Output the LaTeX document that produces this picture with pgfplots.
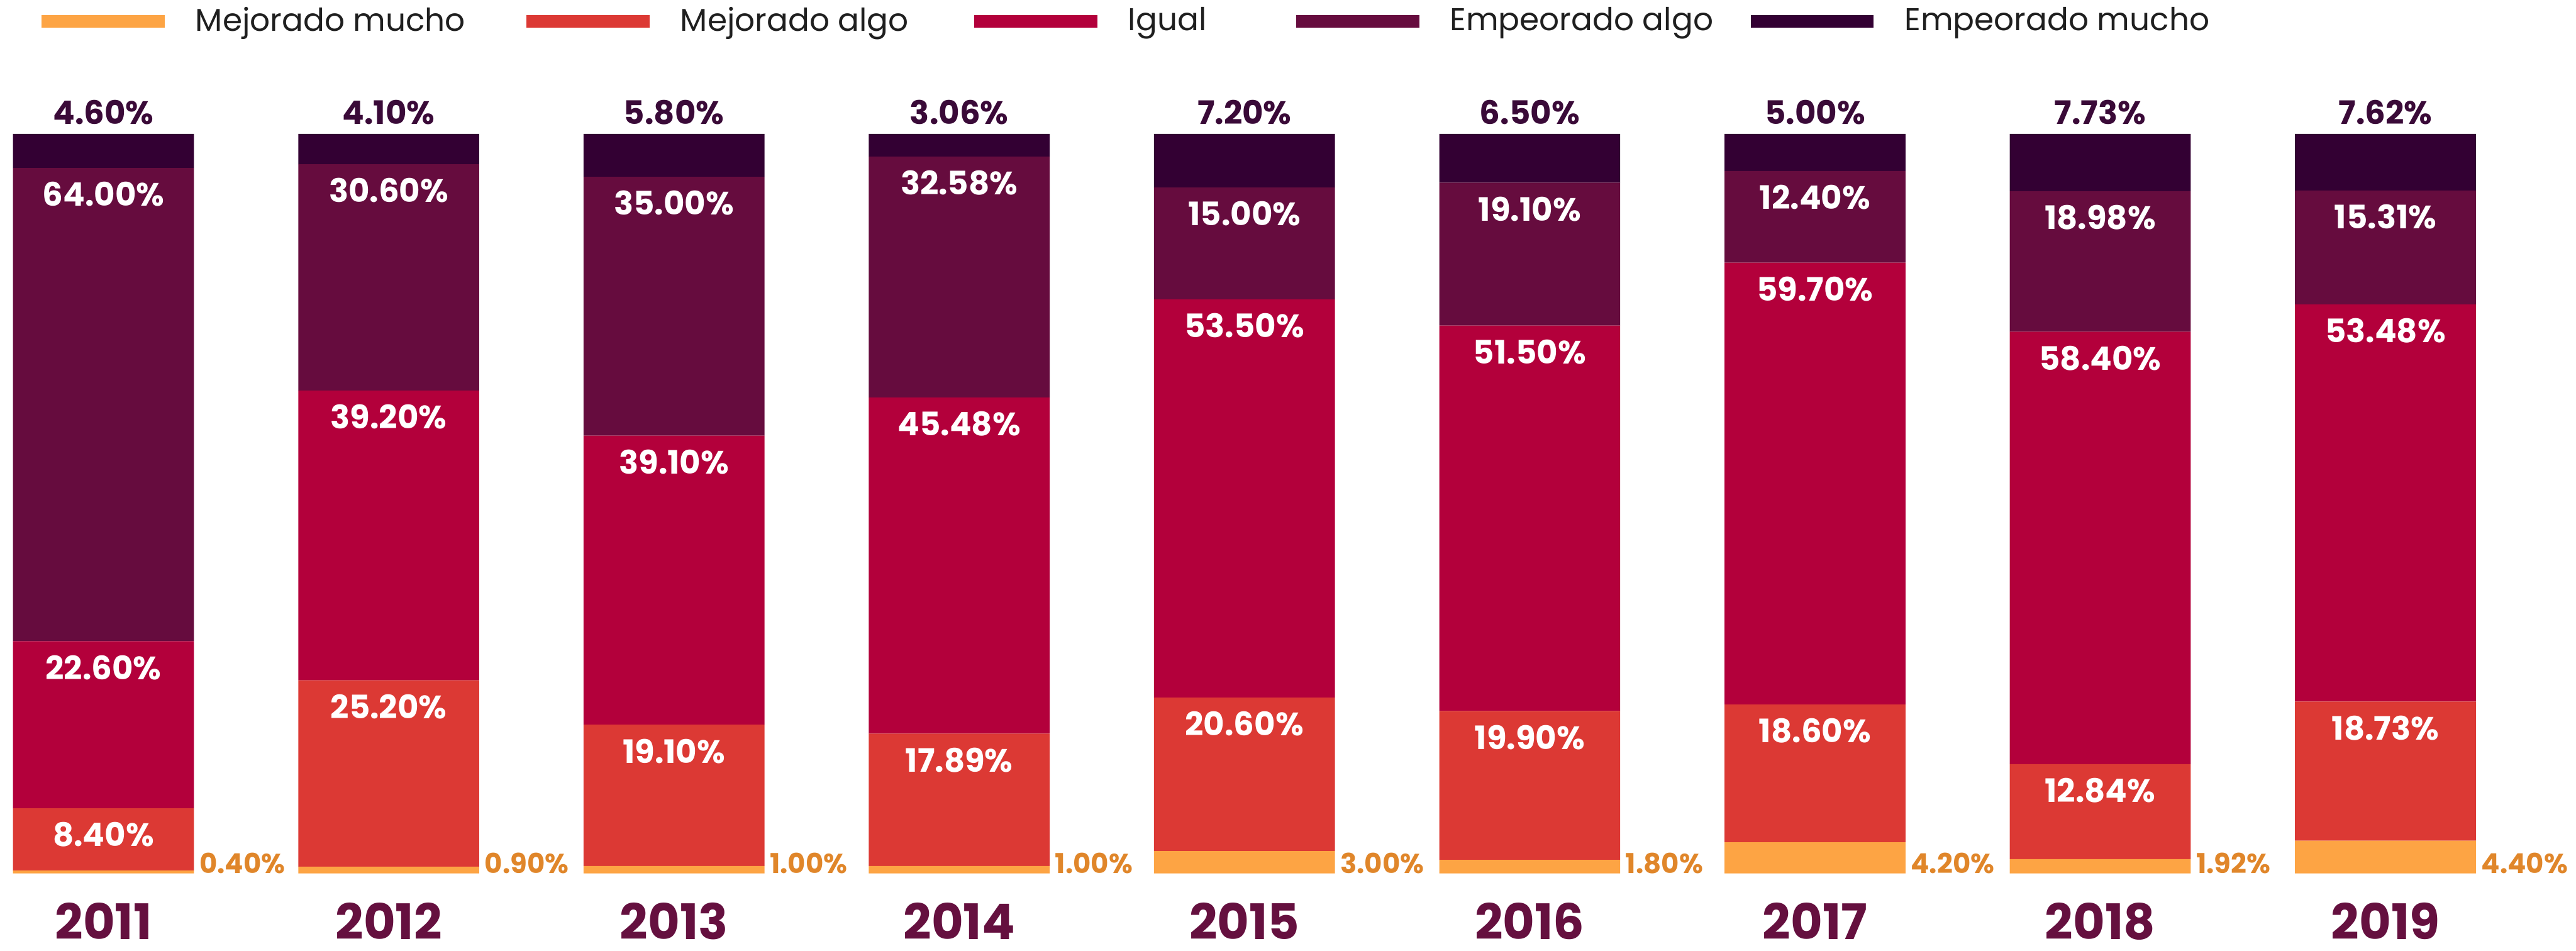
\documentclass[border=0pt]{standalone}
\usepackage{pgfplots}
\pgfplotsset{compat=1.18}
\usepackage{pgfplotstable}
\usepackage{fontspec}
\setmainfont{Poppins}
\definecolor{cMM}{HTML}{FDA444}
\definecolor{cMA}{HTML}{DC3934}
\definecolor{cIG}{HTML}{B3003B}
\definecolor{cEA}{HTML}{660C3E}
\definecolor{cEM}{HTML}{330033}
\definecolor{cYear}{HTML}{65103F}
\definecolor{cTop}{HTML}{3A0A38}
\definecolor{cOr}{HTML}{E0862A}

% heights normalised to 100 (100% stacked); *l columns hold the printed labels;
% ca, ci, ce, t: tops of the segments (label positions); z: bar bottom; yb: year line
\pgfplotstableread{
x mm mml ma mal ig igl ea eal em eml ca ci ce t z yb yr
0 0.4 0.40 8.4 8.40 22.6 22.60 64.0 64.00 4.6 4.60 8.8 31.4 95.4 100 0 -8.9 2011
1 0.9 0.90 25.2 25.20 39.2 39.20 30.6 30.60 4.1 4.10 26.1 65.3 95.9 100 0 -8.9 2012
2 1.0 1.00 19.1 19.10 39.1 39.10 35.0 35.00 5.8 5.80 20.1 59.2 94.2 100 0 -8.9 2013
3 1.0 1.00 17.89 17.89 45.48 45.48 32.58 32.58 3.06 3.06 18.89 64.37 96.95 100 0 -8.9 2014
4 3.021 3.00 20.745 20.60 53.877 53.50 15.106 15.00 7.251 7.20 23.766 77.643 92.749 100 0 -8.9 2015
5 1.822 1.80 20.142 19.90 52.126 51.50 19.332 19.10 6.579 6.50 21.964 74.09 93.422 100 0 -8.9 2016
6 4.204 4.20 18.619 18.60 59.760 59.70 12.412 12.40 5.005 5.00 22.823 82.583 94.995 100 0 -8.9 2017
7 1.922 1.92 12.857 12.84 58.476 58.40 19.005 18.98 7.740 7.73 14.779 73.255 92.26 100 0 -8.9 2018
8 4.420 4.40 18.817 18.73 53.727 53.48 15.381 15.31 7.655 7.62 23.237 76.964 92.345 100 0 -8.9 2019
}\datatable

\pgfplotsset{
  base/.style={width=988.2pt, height=364.6pt, scale only axis,
    xmin=-0.3628, xmax=8.668, ymin=-10.44, ymax=118.12,
    enlargelimits=false, hide axis, clip=false},
  inner lab/.style={draw=none, mark=none, nodes near coords={\pgfplotspointmeta\%}, point meta=explicit symbolic,
    every node near coord/.append style={anchor=north, inner sep=0pt, yshift=-5.2pt,
      text=white, font=\fontsize{12.4}{15}\selectfont\bfseries}},
}

\begin{document}
\begin{tikzpicture}
\begin{axis}[base, ybar stacked, bar width=69.4pt,
  legend columns=5,
  legend cell align=left,
  legend image code/.code={\fill[#1] (0pt,-2.6pt) rectangle (47.2pt,2.2pt);},
  legend style={draw=none, fill=none, inner sep=0pt, outer sep=0pt,
    at={(rel axis cs:0.0162,0.978)}, anchor=west,
    font=\fontsize{12.1}{15}\selectfont, text=black!88,
    nodes={inner sep=0pt},
    /tikz/every odd column/.append style={column sep=11.8pt},
    /tikz/every even column/.append style={column sep=0pt}},
]
\addplot[fill=cMM, draw=none] table[x=x, y=mm]{\datatable};
\addplot[fill=cMA, draw=none] table[x=x, y=ma]{\datatable};
\addplot[fill=cIG, draw=none] table[x=x, y=ig]{\datatable};
\addplot[fill=cEA, draw=none] table[x=x, y=ea]{\datatable};
\addplot[fill=cEM, draw=none] table[x=x, y=em]{\datatable};
\legend{\makebox[127pt][l]{Mejorado mucho},\makebox[112.8pt][l]{Mejorado algo},\makebox[64.4pt][l]{Igual},\makebox[115.4pt][l]{Empeorado algo},Empeorado mucho}
\path (rel axis cs:0,0) rectangle (rel axis cs:1,1);
\end{axis}
\begin{axis}[base]
% labels inside segments, near their tops
\addplot[inner lab] table[x=x, y=ca, meta=mal]{\datatable};
\addplot[inner lab] table[x=x, y=ci, meta=igl]{\datatable};
\addplot[inner lab] table[x=x, y=ce, meta=eal]{\datatable};
% labels above the bars
\addplot[draw=none, mark=none, nodes near coords={\pgfplotspointmeta\%}, point meta=explicit symbolic,
  every node near coord/.append style={anchor=base, inner sep=0pt, yshift=3.8pt,
    text=cTop, font=\fontsize{12.4}{15}\selectfont\bfseries}]
  table[x=x, y=t, meta=eml]{\datatable};
% small labels beside the bars
\addplot[draw=none, mark=none, nodes near coords={\pgfplotspointmeta\%}, point meta=explicit symbolic,
  every node near coord/.append style={anchor=base west, inner sep=0pt, xshift=36.6pt,
    text=cOr, font=\fontsize{10.5}{12}\selectfont\bfseries}]
  table[x=x, y=z, meta=mml]{\datatable};
% years
\addplot[draw=none, mark=none, nodes near coords={\pgfplotspointmeta}, point meta=explicit symbolic,
  every node near coord/.append style={anchor=base, inner sep=0pt,
    text=cYear, font=\fontsize{18.8}{21}\selectfont\bfseries}]
  table[x=x, y=yb, meta=yr]{\datatable};
\end{axis}
\end{tikzpicture}
\end{document}
